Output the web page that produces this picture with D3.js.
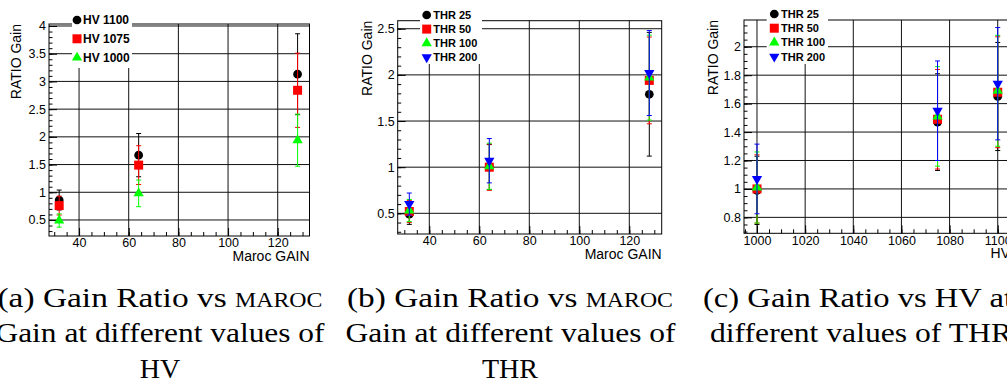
<!DOCTYPE html>
<html>
<head>
<meta charset="utf-8">
<script src="https://cdn.jsdelivr.net/npm/d3@7"></script>
<style>
  html, body { margin: 0; padding: 0; background: #fff; }
  svg { display: block; }
  .cap { font-family: "Liberation Serif", "DejaVu Serif", serif; }
</style>
</head>
<body>
<svg id="chart" width="1007" height="383"></svg>
<script>
// ---------------- DATA ----------------
const gainX = [32, 64, 128];          // Maroc GAIN values (panels a, b)
const hvX = [1000, 1075, 1100];       // HV values (panel c)

// Panel (a): Gain ratio vs Maroc GAIN at different HV
const hvNames = ["HV 1100", "HV 1075", "HV 1000"];
const hv1100 = [0.86, 1.67, 3.13];
const hv1100Err = [0.18, 0.39, 0.73];
const hv1075 = [0.76, 1.49, 2.84];
const hv1075Err = [0.17, 0.35, 0.67];
const hv1000 = [0.49, 0.98, 1.94];
const hv1000Err = [0.12, 0.24, 0.47];

// Panel (b): Gain ratio vs Maroc GAIN at different THR
const thrNames = ["THR 25", "THR 50", "THR 100", "THR 200"];
const bThr25 = [0.49, 1.00, 1.79];
const bThr25Err = [0.11, 0.245, 0.67];
const bThr50 = [0.52, 1.00, 1.94];
const bThr50Err = [0.12, 0.25, 0.47];
const bThr100 = [0.53, 1.01, 1.97];
const bThr100Err = [0.12, 0.25, 0.46];
const bThr200 = [0.60, 1.07, 2.02];
const bThr200Err = [0.12, 0.24, 0.46];

// Panel (c): Gain ratio vs HV at different THR
const cThr25 = [0.99, 1.47, 1.65];
const cThr25Err = [0.24, 0.34, 0.38];
const cThr50 = [1.00, 1.49, 1.68];
const cThr50Err = [0.24, 0.35, 0.39];
const cThr100 = [1.01, 1.51, 1.69];
const cThr100Err = [0.25, 0.35, 0.39];
const cThr200 = [1.07, 1.55, 1.74];
const cThr200Err = [0.245, 0.35, 0.395];

// Tick labels
const gainTicks = [40, 60, 80, 100, 120];
const hvTicks = [1000, 1020, 1040, 1060, 1080, 1100];
const aYTicks = [0.5, 1, 1.5, 2, 2.5, 3, 3.5, 4];
const bYTicks = [0.5, 1, 1.5, 2, 2.5];
const cYTicks = [0.8, 1, 1.2, 1.4, 1.6, 1.8, 2];

// Texts
const xTitleGain = "Maroc GAIN";
const xTitleHV = "HV";
const yTitle = "RATIO Gain";
const captionA = [[["(a) Gain Ratio vs ", 0], ["MAROC", 1]], [["Gain at different values of", 0]], [["HV", 0]]];
const captionB = [[["(b) Gain Ratio vs ", 0], ["MAROC", 1]], [["Gain at different values of", 0]], [["THR", 0]]];
const captionC = [[["(c) Gain Ratio vs HV at", 0]], [["different values of THR", 0]]];

// ---------------- STYLE ----------------
const markerStyles = [
  { type: d3.symbolCircle, size: 60, rot: 0, color: "#000000" },
  { type: d3.symbolSquare, size: 81, rot: 0, color: "#ff0000" },
  { type: d3.symbolTriangle, size: 46, rot: 0, color: "#00ff00" },
  { type: d3.symbolTriangle, size: 46, rot: 180, color: "#0000ff" }
];

const panels = [
  {
    frame: { l: 49, r: 309.5, t: 24, b: 236 },
    xDom: [27.9, 132.8], yDom: [0.211, 4.036],
    xTicks: gainTicks, yTicks: aYTicks, xMinorStep: 5, yMinorStep: 0.1,
    xTitle: xTitleGain, xs: gainX,
    series: [[hv1100, hv1100Err], [hv1075, hv1075Err], [hv1000, hv1000Err]],
    names: hvNames,
    legend: { x: 72, y: 11, w: 60, h: 57, mx: 77, tx: 83, y0: 20, dy: 18.8, fs: 12 },
    yTitleX: 20.5
  },
  {
    frame: { l: 397.7, r: 661.7, t: 20.7, b: 234 },
    xDom: [27.36, 132.96], yDom: [0.276, 2.587],
    xTicks: gainTicks, yTicks: bYTicks, xMinorStep: 5, yMinorStep: 0.1,
    xTitle: xTitleGain, xs: gainX,
    series: [[bThr25, bThr25Err], [bThr50, bThr50Err], [bThr100, bThr100Err], [bThr200, bThr200Err]],
    names: thrNames,
    legend: { x: 420, y: 7, w: 62, h: 57, mx: 426.7, tx: 433.3, y0: 15, dy: 14.1, fs: 11 },
    yTitleX: 371.7
  },
  {
    frame: { l: 744, r: 1010, t: 20, b: 233.3 },
    xDom: [994.6, 1105.1], yDom: [0.688, 2.188],
    xTicks: hvTicks, yTicks: cYTicks, xMinorStep: 5, yMinorStep: 0.05,
    xTitle: xTitleHV, xs: hvX,
    series: [[cThr25, cThr25Err], [cThr50, cThr50Err], [cThr100, cThr100Err], [cThr200, cThr200Err]],
    names: thrNames,
    legend: { x: 766.7, y: 6, w: 61.3, h: 58, mx: 774.3, tx: 781, y0: 14, dy: 14.2, fs: 11 },
    yTitleX: 717.5
  }
];

const svg = d3.select("#chart");
svg.append("rect").attr("width", 1007).attr("height", 383).attr("fill", "#fff");

const fmt = d => String(+d.toFixed(2));
const SANS = "'Liberation Sans', Arial, Helvetica, sans-serif";

function drawPanel(p) {
  const f = p.frame;
  const x = d3.scaleLinear().domain(p.xDom).range([f.l, f.r]);
  const y = d3.scaleLinear().domain(p.yDom).range([f.b, f.t]);
  const g = svg.append("g");

  // grid
  const grid = g.append("g").attr("stroke", "#111").attr("stroke-width", 1);
  grid.selectAll("line.gx").data(p.xTicks).join("line")
    .attr("x1", d => x(d)).attr("x2", d => x(d)).attr("y1", f.t).attr("y2", f.b);
  grid.selectAll("line.gy").data(p.yTicks).join("line")
    .attr("y1", d => y(d)).attr("y2", d => y(d)).attr("x1", f.l).attr("x2", f.r);

  // minor ticks
  const xMinor = d3.range(Math.ceil(p.xDom[0] / p.xMinorStep) * p.xMinorStep, p.xDom[1], p.xMinorStep);
  const yMinor = d3.range(Math.ceil(p.yDom[0] / p.yMinorStep - 1e-6) * p.yMinorStep, p.yDom[1], p.yMinorStep);
  g.append("g").attr("transform", `translate(0,${f.b})`)
    .call(d3.axisBottom(x).tickValues(xMinor).tickSize(-4).tickFormat(""))
    .call(a => a.select(".domain").remove());
  g.append("g").attr("transform", `translate(${f.l},0)`)
    .call(d3.axisLeft(y).tickValues(yMinor).tickSize(-3.5).tickFormat(""))
    .call(a => a.select(".domain").remove());

  // major axes
  const xa = g.append("g").attr("transform", `translate(0,${f.b})`)
    .call(d3.axisBottom(x).tickValues(p.xTicks).tickSize(-8).tickPadding(2.5).tickFormat(fmt));
  xa.select(".domain").remove();
  xa.selectAll("text").attr("font-family", SANS).attr("font-size", 12.5).attr("fill", "#000");
  const ya = g.append("g").attr("transform", `translate(${f.l},0)`)
    .call(d3.axisLeft(y).tickValues(p.yTicks).tickSize(-8).tickPadding(3).tickFormat(fmt));
  ya.select(".domain").remove();
  ya.selectAll("text").attr("font-family", SANS).attr("font-size", 12.5).attr("fill", "#000");

  // frame
  g.append("rect").attr("x", f.l).attr("y", f.t).attr("width", f.r - f.l).attr("height", f.b - f.t)
    .attr("fill", "none").attr("stroke", "#000").attr("stroke-width", 1);

  // titles
  g.append("text").attr("x", f.r).attr("y", f.b + 25).attr("text-anchor", "end")
    .attr("font-family", SANS).attr("font-size", 14).text(p.xTitle);
  g.append("text").attr("transform", `translate(${p.yTitleX},${f.t}) rotate(-90)`).attr("text-anchor", "end")
    .attr("font-family", SANS).attr("font-size", 14).text(yTitle);

  // series
  p.series.forEach((s, i) => {
    const st = markerStyles[i];
    const vals = s[0], errs = s[1];
    const sg = g.append("g");
    const pts = vals.map((v, k) => ({ x: p.xs[k], v, e: errs[k] }));
    sg.selectAll("line.eb").data(pts).join("line")
      .attr("x1", d => x(d.x)).attr("x2", d => x(d.x))
      .attr("y1", d => y(d.v - d.e)).attr("y2", d => y(d.v + d.e))
      .attr("stroke", st.color).attr("stroke-width", 1);
    ["lo", "hi"].forEach(side => {
      sg.selectAll("line.cap" + side).data(pts).join("line")
        .attr("x1", d => x(d.x) - 2.5).attr("x2", d => x(d.x) + 2.5)
        .attr("y1", d => y(side === "lo" ? d.v - d.e : d.v + d.e))
        .attr("y2", d => y(side === "lo" ? d.v - d.e : d.v + d.e))
        .attr("stroke", st.color).attr("stroke-width", 1);
    });
    sg.selectAll("path.m").data(pts).join("path")
      .attr("d", d3.symbol().type(st.type).size(st.size))
      .attr("transform", d => `translate(${x(d.x)},${y(d.v)}) rotate(${st.rot})`)
      .attr("fill", st.color);
  });

  // legend
  const L = p.legend;
  const lg = g.append("g");
  lg.append("rect").attr("x", L.x).attr("y", L.y).attr("width", L.w).attr("height", L.h).attr("fill", "#fff");
  p.names.forEach((n, i) => {
    const st = markerStyles[i];
    const cy = L.y0 + i * L.dy;
    lg.append("path").attr("d", d3.symbol().type(st.type).size(st.size)())
      .attr("transform", `translate(${L.mx},${cy}) rotate(${st.rot})`).attr("fill", st.color);
    lg.append("text").attr("x", L.tx).attr("y", cy).attr("dy", "0.36em")
      .attr("font-family", SANS).attr("font-weight", "bold")
      .attr("font-size", L.fs).text(n);
  });
}

panels.forEach(drawPanel);

// captions
function drawCaption(lines, pos) {
  lines.forEach((segs, i) => {
    const lp = pos[i];
    const t = svg.append("text").attr("class", "cap").attr("x", lp.x).attr("y", lp.y)
      .attr("text-anchor", lp.anchor)
      .attr("font-size", 28).attr("fill", "#000");
    if (lp.len) t.attr("textLength", lp.len).attr("lengthAdjust", "spacingAndGlyphs");
    segs.forEach(([txt, sc]) => {
      const ts = t.append("tspan").text(txt);
      if (sc) ts.attr("font-size", 20);
    });
  });
}
drawCaption(captionA, [
  { x: 160, y: 306.5, anchor: "middle", len: 325 },
  { x: 160, y: 342, anchor: "middle", len: 329 },
  { x: 160, y: 378, anchor: "middle" }
]);
drawCaption(captionB, [
  { x: 510, y: 306.5, anchor: "middle", len: 326 },
  { x: 510.5, y: 342, anchor: "middle", len: 330 },
  { x: 510, y: 378, anchor: "middle" }
]);
drawCaption(captionC, [
  { x: 703, y: 306.5, anchor: "start", len: 310 },
  { x: 710, y: 342, anchor: "start", len: 302 }
]);
</script>
</body>
</html>
